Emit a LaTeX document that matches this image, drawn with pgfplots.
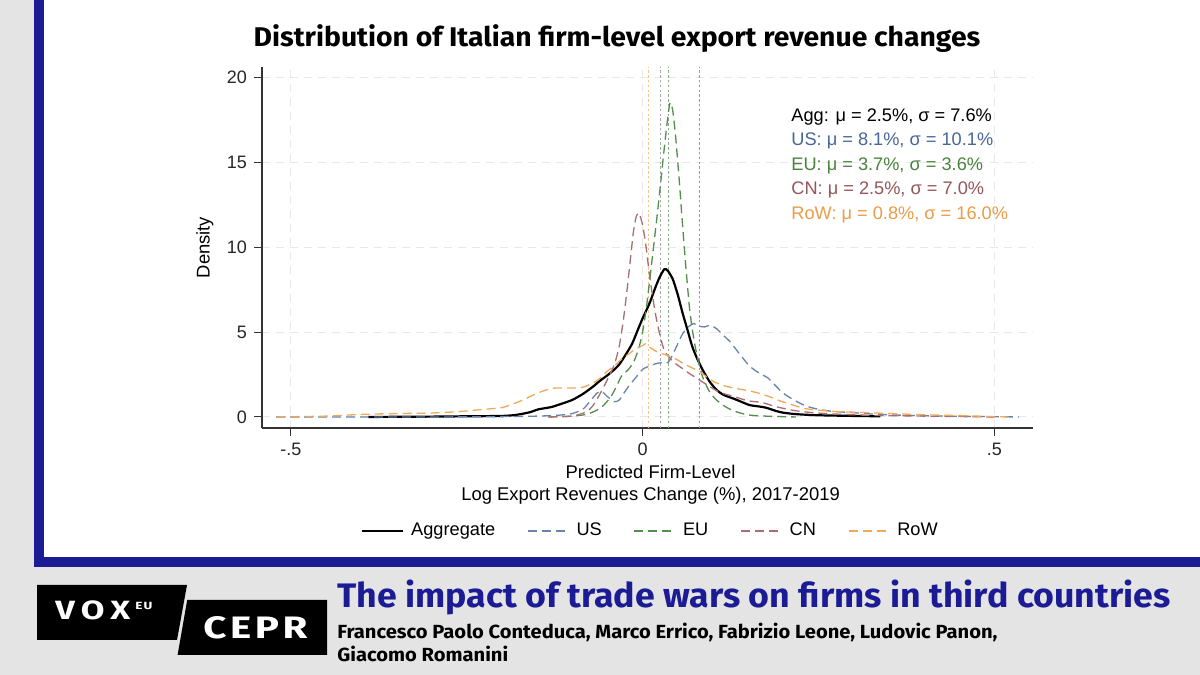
\documentclass[border=0pt]{standalone}
\usepackage{pgfplots}
\pgfplotsset{compat=1.18}
\usepackage{fontspec}
\setmainfont{Liberation Sans}
\newfontfamily\firab[FakeStretch=1.05]{Fira Sans}
\newfontfamily\firaa[FakeStretch=1.06]{Fira Sans}
\newfontfamily\logof[FakeStretch=1.3]{Fira Sans}

\definecolor{navy}{RGB}{27,27,150}
\definecolor{bggray}{RGB}{228,228,228}
\definecolor{gridgray}{RGB}{232,232,232}
\definecolor{usc}{RGB}{104,132,170}
\definecolor{euc}{RGB}{84,142,76}
\definecolor{cnc}{RGB}{170,110,114}
\definecolor{rowc}{RGB}{238,170,90}
\definecolor{ust}{RGB}{72,102,152}
\definecolor{eut}{RGB}{72,132,60}
\definecolor{cnt}{RGB}{150,86,90}
\definecolor{rowt}{RGB}{234,156,72}

\begin{document}
\begin{tikzpicture}
% background and frame
\fill[bggray] (0pt,0pt) rectangle (600pt,337.5pt);
\fill[white] (22pt,59pt) rectangle (600pt,337.5pt);
\fill[navy] (17pt,54pt) rectangle (22pt,337.5pt);
\fill[navy] (17pt,54pt) rectangle (600pt,59pt);

\begin{axis}[
  at={(131pt,123.5pt)}, anchor=south west,
  scale only axis, width=385.5pt, height=180.5pt,
  xmin=-0.541, xmax=0.555, ymin=-0.65, ymax=20.6,
  axis x line*=bottom, axis y line*=left,
  axis line style={line width=0.6pt, color=black!80},
  tick align=outside, major tick length=4pt,
  tick style={line width=0.5pt, color=black!80},
  xtick={-0.5,0,0.5}, xticklabels={-.5,0,.5},
  ytick={0,5,10,15,20},
  /pgf/number format/assume math mode=true,
  tick label style={font=\fontsize{9}{10}\selectfont, color=black!85},
  grid=major,
  major grid style={dash pattern=on 4pt off 3pt, color=gridgray, line width=0.5pt},
  ylabel={Density},
  ylabel style={at={(axis description cs:-0.074,0.5)}, anchor=center, rotate=0, font=\fontsize{9.2}{11}\selectfont},
  xlabel={Predicted Firm-Level\\Log Export Revenues Change (\%), 2017-2019},
  xlabel style={at={(axis description cs:0.504,-0.082)}, anchor=north, align=center, font=\fontsize{9.2}{11.2}\selectfont},
  legend columns=5,
  legend style={draw=none, fill=none, at={(axis description cs:0.505,-0.285)}, anchor=center,
    font=\fontsize{9.1}{11}\selectfont,
    /tikz/every even column/.append style={column sep=14pt}},
  legend image code/.code={\draw[#1] (0pt,0pt) -- (20.5pt,0pt);},
  legend cell align=left,
]
% mean lines
\addplot[forget plot, rowc!70, line width=0.5pt, dash pattern=on 1.2pt off 1.2pt] coordinates {(0.008,-0.65) (0.008,20.6)};
\addplot[forget plot, cnc!80, line width=0.5pt, dash pattern=on 1.2pt off 1.2pt] coordinates {(0.025,-0.65) (0.025,20.6)};
\addplot[forget plot, gray!70, line width=0.5pt, dash pattern=on 1.2pt off 1.2pt] coordinates {(0.0255,-0.65) (0.0255,20.6)};
\addplot[forget plot, euc!70, line width=0.5pt, dash pattern=on 1.2pt off 1.2pt] coordinates {(0.037,-0.65) (0.037,20.6)};
\addplot[forget plot, gray!80, line width=0.5pt, dash pattern=on 1.2pt off 1.2pt] coordinates {(0.081,-0.65) (0.081,20.6)};

% Aggregate
\addplot[black, line width=1.1pt, smooth, tension=0.4] coordinates {
(-0.39,0.0) (-0.30,0.02) (-0.25,0.04) (-0.20,0.06) (-0.18,0.12) (-0.16,0.28)
(-0.148,0.45) (-0.13,0.58) (-0.115,0.78) (-0.10,1.0) (-0.085,1.35) (-0.07,1.8)
(-0.06,2.15) (-0.05,2.45) (-0.04,2.8) (-0.033,3.1) (-0.025,3.6) (-0.015,4.3)
(-0.007,5.1) (0.0,5.8) (0.01,6.7) (0.018,7.6) (0.024,8.2) (0.031,8.7) (0.036,8.6)
(0.043,8.1) (0.05,7.2) (0.057,6.1) (0.064,5.1) (0.071,4.1) (0.078,3.4) (0.085,2.8)
(0.095,2.1) (0.105,1.6) (0.115,1.3) (0.128,1.1) (0.14,0.9) (0.152,0.7) (0.165,0.62)
(0.175,0.55) (0.19,0.35) (0.20,0.25) (0.22,0.16) (0.25,0.1) (0.30,0.06) (0.338,0.04)};
\addlegendentry{\hspace{1.5pt}Aggregate}

% US
\addplot[usc, line width=0.65pt, dash pattern=on 4.5pt off 2.5pt, smooth, tension=0.4] coordinates {
(-0.521,0.0) (-0.30,0.0) (-0.20,0.02) (-0.15,0.05) (-0.12,0.1) (-0.10,0.2)
(-0.085,0.45) (-0.075,0.9) (-0.065,1.4) (-0.058,1.5) (-0.05,1.2) (-0.04,0.9)
(-0.033,1.0) (-0.025,1.5) (-0.018,1.9) (-0.01,2.3) (0.0,2.8) (0.01,3.0) (0.02,3.15)
(0.03,3.2) (0.036,3.2) (0.042,3.6) (0.05,4.3) (0.057,4.9) (0.065,5.3) (0.073,5.5)
(0.08,5.35) (0.088,5.3) (0.096,5.4) (0.105,5.2) (0.115,4.8) (0.125,4.4) (0.138,3.7)
(0.152,3.0) (0.165,2.6) (0.178,2.3) (0.19,1.8) (0.20,1.4) (0.215,1.0) (0.232,0.65)
(0.25,0.45) (0.27,0.33) (0.30,0.25) (0.34,0.14) (0.40,0.07) (0.45,0.04) (0.535,0.0)};
\addlegendentry{\hspace{1.5pt}US}

% EU
\addplot[euc, line width=0.65pt, dash pattern=on 4.5pt off 2.5pt, smooth, tension=0.4] coordinates {
(-0.134,0.0) (-0.10,0.05) (-0.08,0.15) (-0.065,0.4) (-0.055,0.7) (-0.045,1.2)
(-0.037,1.8) (-0.03,2.4) (-0.02,2.8) (-0.012,3.3) (-0.005,4.1) (0.0,5.0) (0.005,6.3)
(0.010,8.0) (0.015,9.8) (0.020,11.6) (0.025,13.5) (0.030,15.5) (0.034,17.0)
(0.038,18.3) (0.040,18.5) (0.043,18.0) (0.047,16.5) (0.052,14.0) (0.057,11.2)
(0.062,8.6) (0.067,6.3) (0.072,4.8) (0.077,3.7) (0.085,2.4) (0.095,1.5) (0.105,1.0)
(0.118,0.6) (0.13,0.35) (0.15,0.12) (0.18,0.04) (0.218,0.0)};
\addlegendentry{\hspace{1.5pt}EU}

% CN
\addplot[cnc, line width=0.65pt, dash pattern=on 4.5pt off 2.5pt, smooth, tension=0.4] coordinates {
(-0.134,0.0) (-0.10,0.05) (-0.08,0.3) (-0.07,0.7) (-0.06,1.4) (-0.05,2.2) (-0.04,3.1)
(-0.033,4.2) (-0.027,5.8) (-0.022,7.5) (-0.017,9.4) (-0.013,10.9) (-0.009,11.8)
(-0.005,12.0) (0.0,11.3) (0.005,10.0) (0.01,8.3) (0.015,6.9) (0.02,5.7) (0.026,4.6)
(0.031,3.9) (0.038,3.5) (0.045,3.2) (0.055,2.9) (0.065,2.6) (0.08,2.2) (0.095,1.8)
(0.11,1.45) (0.13,1.2) (0.15,0.95) (0.17,0.85) (0.19,0.6) (0.22,0.35) (0.26,0.2)
(0.32,0.1) (0.40,0.05) (0.50,0.0)};
\addlegendentry{\hspace{1.5pt}CN}

% RoW
\addplot[rowc, line width=0.65pt, dash pattern=on 4.5pt off 2.5pt, smooth, tension=0.4] coordinates {
(-0.52,0.0) (-0.45,0.05) (-0.40,0.15) (-0.35,0.2) (-0.30,0.23) (-0.26,0.32)
(-0.225,0.45) (-0.20,0.55) (-0.185,0.75) (-0.17,1.0) (-0.155,1.3) (-0.14,1.55)
(-0.125,1.7) (-0.10,1.7) (-0.085,1.75) (-0.07,2.0) (-0.06,2.3) (-0.05,2.7) (-0.04,3.0)
(-0.03,3.4) (-0.02,3.7) (-0.01,4.0) (0.0,4.2) (0.004,4.3) (0.01,4.1) (0.02,3.85)
(0.03,3.7) (0.04,3.55) (0.05,3.35) (0.06,3.1) (0.07,2.9) (0.08,2.7) (0.09,2.4)
(0.10,2.1) (0.115,1.85) (0.13,1.7) (0.15,1.55) (0.165,1.4) (0.18,1.2) (0.195,0.95)
(0.21,0.75) (0.23,0.5) (0.25,0.4) (0.27,0.33) (0.30,0.28) (0.34,0.22) (0.40,0.13)
(0.45,0.08) (0.50,0.02) (0.52,0.0)};
\addlegendentry{\hspace{1.5pt}RoW}
\end{axis}

% annotations
\begin{scope}[every node/.style={anchor=base west, inner sep=0pt, font=\fontsize{9.1}{11}\selectfont}]
\node[text=black] at (395.5pt,276.75pt) {Agg: μ = 2.5\%, σ = 7.6\%};
\node[text=ust] at (395.5pt,264.5pt) {US: μ = 8.1\%, σ = 10.1\%};
\node[text=eut] at (395.5pt,252.25pt) {EU: μ = 3.7\%, σ = 3.6\%};
\node[text=cnt] at (395.5pt,240pt) {CN: μ = 2.5\%, σ = 7.0\%};
\node[text=rowt] at (395.5pt,227.5pt) {RoW: μ = 0.8\%, σ = 16.0\%};
\end{scope}

% chart title
\node[anchor=base, inner sep=0pt, font=\firab\bfseries\fontsize{13.5}{15}\selectfont] at (308.5pt,314.3pt) {Distribution of Italian firm-level export revenue changes};

% logo
\fill[black] (18.5pt,45pt) -- (93.5pt,45pt) -- (88.5pt,17.5pt) -- (18.5pt,17.5pt) -- cycle;
\fill[black] (93.6pt,37.5pt) -- (163.5pt,37.5pt) -- (163.5pt,10pt) -- (88.8pt,10pt) -- cycle;
\node[anchor=base west, inner sep=0pt, text=white, font=\logof\bfseries\fontsize{13.2}{14}\selectfont] at (27.5pt,27.5pt) {\makebox[37.5pt][s]{V\hfill O\hfill X}};
\node[anchor=north west, inner sep=0pt, text=white, font=\logof\bfseries\fontsize{5.2}{6}\selectfont] at (67.5pt,36.6pt) {E\kern0.6pt U};
\node[anchor=base west, inner sep=0pt, text=white, font=\logof\bfseries\fontsize{15.5}{16}\selectfont] at (101.5pt,18.35pt) {\makebox[52pt][s]{C\hfill E\hfill P\hfill R}};

% footer text
\node[anchor=base west, inner sep=0pt, text=navy, font=\firab\bfseries\fontsize{17}{19}\selectfont] at (168.5pt,33.5pt) {The impact of trade wars on firms in third countries};
\node[anchor=base west, inner sep=0pt, text=black, font=\firaa\bfseries\fontsize{9.5}{11}\selectfont] at (168.5pt,18.3pt) {Francesco Paolo Conteduca, Marco Errico, Fabrizio Leone, Ludovic Panon,};
\node[anchor=base west, inner sep=0pt, text=black, font=\firaa\bfseries\fontsize{9.5}{11}\selectfont] at (168.5pt,6.5pt) {Giacomo Romanini};
\end{tikzpicture}
\end{document}
